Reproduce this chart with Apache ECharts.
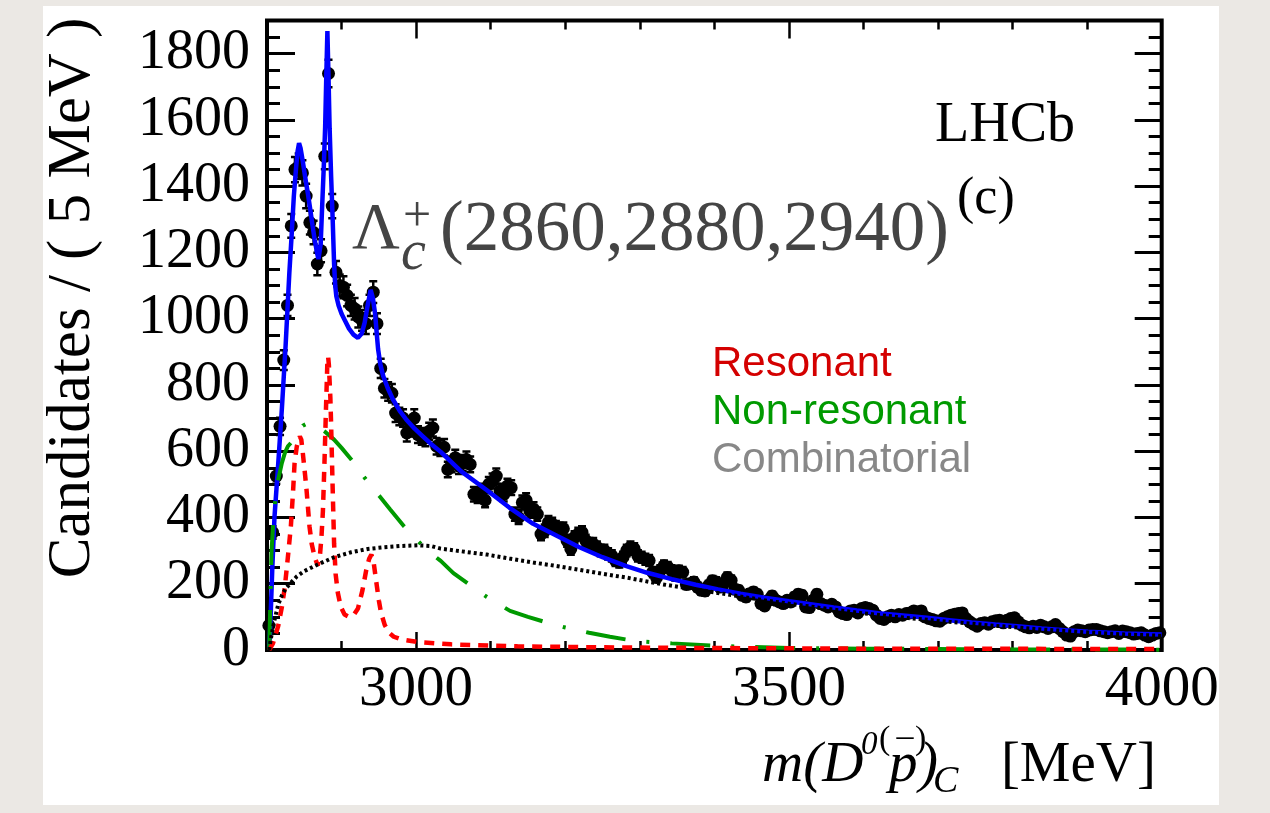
<!DOCTYPE html>
<html>
<head>
<meta charset="utf-8">
<script src="https://cdn.jsdelivr.net/npm/echarts@6/dist/echarts.min.js"></script>
<style>
  html, body { margin: 0; padding: 0; background: #ebe8e4; }
  #panel { position: absolute; left: 43px; top: 6px; width: 1176px; height: 799px; background: #fff; }
  #chart { position: absolute; left: 0; top: 0; width: 1270px; height: 813px; }
</style>
</head>
<body>
<div id="panel"></div>
<div id="chart"></div>
<script>
// 5 MeV bins from 2800 to 4000
var binStart = 2800, binWidth = 5;
var counts = [
  74, 355, 525, 675, 875, 1040, 1280, 1450, 1460, 1440,
  1370, 1290, 1260, 1165, 1205, 1490, 1740, 1340, 1140, 1100,
  1095, 1070, 1040, 1030, 1005, 995, 985, 1040, 1080, 985,
  850, 790, 780, 775, 715, 705, 700, 655, 670, 700,
  650, 645, 640, 660, 670, 615, 610, 612, 545, 560,
  580, 555, 565, 575, 560, 470, 465, 480, 452, 500,
  510, 525, 480, 470, 495, 490, 410, 400, 445, 452,
  420, 425, 410, 350, 360, 385, 380, 370, 365, 366,
  330, 305, 340, 350, 355, 330, 320, 320, 310, 300,
  300, 290, 284, 270, 265, 280, 300, 310, 305, 284,
  280, 274, 270, 235, 219, 240, 254, 250, 240, 225,
  239, 235, 198, 200, 205, 190, 180, 178, 195, 209,
  205, 190, 200, 219, 210, 183, 180, 165, 160, 170,
  175, 168, 140, 133, 150, 163, 150, 145, 140, 150,
  145, 160, 168, 165, 130, 128, 150, 168, 140, 135,
  130, 138, 130, 115, 110, 107, 118, 120, 112, 125,
  128, 125, 120, 105, 95, 92, 100, 105, 100, 107,
  105, 110, 112, 118, 115, 118, 100, 95, 92, 88,
  87, 95, 100, 105, 108, 110, 112, 95, 85, 78,
  72, 80, 82, 78, 85, 88, 90, 82, 90, 95,
  97, 85, 75, 70, 67, 72, 68, 75, 70, 65,
  70, 77, 65, 55, 45, 42, 55, 60, 58, 55,
  60, 62, 62, 58, 55, 52, 55, 58, 50, 57,
  55, 52, 48, 50, 52, 45, 40, 45, 50, 52
];

var totalFit = [
  [2803,0],[2805,110],[2807,240],[2810,400],[2815,560],[2820,730],[2825,920],[2830,1140],
  [2833,1250],[2836,1370],[2839,1455],[2841,1505],[2843,1530],[2845,1515],[2848,1475],
  [2851,1430],[2855,1375],[2858,1330],[2861,1282],[2864,1238],[2867,1200],[2869,1180],
  [2870.5,1182],[2872,1225],[2874,1340],[2876,1450],[2878,1580],[2879.5,1730],[2881,1868],
  [2882.5,1730],[2884,1575],[2886,1430],[2888,1305],[2890,1165],[2891.5,1100],[2893,1068],
  [2896,1040],[2900,1015],[2904,997],[2910,970],[2916,952],[2922,942],[2927,955],[2931,988],
  [2935,1040],[2939,1087],[2942,1062],[2945,1015],[2947,960],[2949,908],[2952,862],[2956,826],
  [2962,790],[2969,756],[2978,722],[2987,695],[2998,668],[3009,645],[3020,622],[3033,598],
  [3060,540],[3095,482],[3125,430],[3157,381],[3190,343],[3219,310],[3250,280],[3281,254],
  [3310,233],[3343,214],[3375,197],[3405,183],[3435,170],[3467,158],[3500,147],[3529,138],
  [3560,128],[3591,119],[3620,111],[3653,104],[3685,97],[3715,90],[3745,83],[3777,77],
  [3810,71],[3839,65],[3870,60],[3901,55],[3950,50],[4000,47]
];

var resonant = [
  [2803,0],[2808,20],[2815,72],[2820,130],[2824,192],[2828,280],[2832,373],[2835,480],
  [2837,565],[2840,615],[2844,645],[2846,635],[2848,595],[2851,530],[2853,484],[2857,373],
  [2860,320],[2864,280],[2868,255],[2871,285],[2873,340],[2875,420],[2877,560],[2879,720],
  [2881,870],[2882,885],[2883,860],[2885,760],[2886,680],[2888,494],[2890,320],[2892,230],
  [2895,173],[2899,130],[2904,107],[2910,100],[2916,105],[2922,125],[2928,180],[2933,240],
  [2937,275],[2940,288],[2943,265],[2946,215],[2950,150],[2953,112],[2958,75],[2964,52],
  [2970,40],[2980,32],[3002,24],[3047,17],[3136,11],[3250,8],[3400,6],[3600,4],[4000,3]
];

var nonResonant = [
  [2803,0],[2805,200],[2806,294],[2808,373],[2811,450],[2815,514],[2820,565],[2824,595],
  [2828,615],[2832,625],[2840,655],[2848,677],[2855,685],[2862,680],[2870,670],[2877,660],
  [2890,635],[2900,610],[2913,575],[2922,548],[2931,520],[2940,493],[2951,464],[2965,425],
  [2984,373],[3000,335],[3015,300],[3033,269],[3050,232],[3071,198],[3095,160],[3126,118],
  [3150,100],[3172,85],[3200,68],[3232,52],[3260,40],[3294,27],[3343,20],[3397,13],
  [3450,9],[3500,6],[3600,4],[3700,3],[3800,2],[4000,1]
];

var combinatorial = [
  [2803,0],[2805,32],[2810,90],[2815,137],[2820,165],[2825,185],[2832,203],[2840,222],
  [2850,238],[2868,258],[2890,280],[2913,295],[2935,305],[2957,310],[2980,314],[3002,316],
  [3020,314],[3033,306],[3060,298],[3095,288],[3125,276],[3157,264],[3190,253],[3219,242],
  [3250,230],[3281,219],[3331,198],[3400,174],[3467,150],[3529,131],[3591,113],[3653,98],
  [3715,85],[3777,73],[3839,62],[3901,53],[3950,47],[4000,43]
];

var xMajorTicks = [3000, 3500, 4000];
var yMajorTicks = [0, 200, 400, 600, 800, 1000, 1200, 1400, 1600, 1800];

var serif = 'Liberation Serif';
var points = counts.map(function (c, i) {
  return [binStart + binWidth * (i + 0.5), c, Math.sqrt(c)];
});

function plain(v) { return String(v); }

function xAxisCfg(pos, len, major) {
  var a = {
    type: 'value', position: pos, min: 2800, max: 4000, interval: 100,
    axisLine: { show: false, onZero: false },
    axisTick: { inside: true, length: len, lineStyle: { color: '#000', width: 2.5 } },
    axisLabel: { show: false },
    splitLine: { show: false }
  };
  if (major) a.axisTick.customValues = xMajorTicks;
  return a;
}
function yAxisCfg(pos, len, major) {
  var a = {
    type: 'value', position: pos, min: 0, max: 1900, interval: 50,
    axisLine: { show: false, onZero: false },
    axisTick: { inside: true, length: len, lineStyle: { color: '#000', width: 3 } },
    axisLabel: { show: false },
    splitLine: { show: false }
  };
  if (major) a.axisTick.customValues = yMajorTicks;
  return a;
}

var xAxes = [xAxisCfg('bottom', 9, false), xAxisCfg('bottom', 18, true),
             xAxisCfg('top', 9, false), xAxisCfg('top', 18, true)];
xAxes[1].axisLabel = { show: true, customValues: xMajorTicks, color: '#000',
  fontFamily: serif, fontSize: 57, margin: 12, formatter: plain };
var yAxes = [yAxisCfg('left', 13, false), yAxisCfg('left', 28, true),
             yAxisCfg('right', 13, false), yAxisCfg('right', 27, true)];
yAxes[1].axisLabel = { show: true, customValues: yMajorTicks, color: '#000',
  fontFamily: serif, fontSize: 56, margin: 17, formatter: plain };

function txt(x, y, text, font, fill, align, rot) {
  return {
    type: 'text', x: x, y: y, rotation: rot || 0, z: 100,
    style: { text: text, font: font, fill: fill, align: align || 'left', textAlign: align || 'left',
      verticalAlign: 'middle', textVerticalAlign: 'middle' }
  };
}

var chart = echarts.init(document.getElementById('chart'), null, { renderer: 'canvas' });
chart.setOption({
  animation: false,
  backgroundColor: 'transparent',
  grid: { left: 267, top: 20.5, right: 108.3, bottom: 163, show: true,
    borderColor: '#000', borderWidth: 4, backgroundColor: 'transparent' },
  xAxis: xAxes,
  yAxis: yAxes,
  graphic: [
    txt(73, 298, 'Candidates / ( 5 MeV )', '61px "' + serif + '"', '#000', 'center', Math.PI / 2),
    txt(762, 766, 'm(D', 'italic 57px "' + serif + '"', '#000'),
    txt(861, 745, '0', 'italic 33px "' + serif + '"', '#000'),
    txt(879, 740, '(', '34px "' + serif + '"', '#000'),
    txt(905, 737, '\u2013', '34px "' + serif + '"', '#000', 'center'),
    txt(915, 740, ')', '34px "' + serif + '"', '#000'),
    txt(889, 766, 'p', 'italic 57px "' + serif + '"', '#000'),
    txt(919, 766, ')', 'italic 57px "' + serif + '"', '#000'),
    txt(933, 782, 'C', 'italic 38px "' + serif + '"', '#000'),
    txt(1156, 766, '[MeV]', '57px "' + serif + '"', '#000', 'right'),
    txt(935, 126, 'LHCb', '56px "' + serif + '"', '#000'),
    txt(352, 231, '\u039B', '66px "' + serif + '"', '#444'),
    txt(403, 218, '+', '50px "' + serif + '"', '#444'),
    txt(401, 254, 'c', 'italic 56px "' + serif + '"', '#444'),
    txt(440, 231, '(2860,2880,2940)', '71px "' + serif + '"', '#444'),
    txt(957, 199, '(c)', '52px "' + serif + '"', '#000'),
    txt(712, 364, 'Resonant', '42px "Liberation Sans"', '#d40000'),
    txt(712, 412, 'Non-resonant', '42px "Liberation Sans"', '#009a00'),
    txt(712, 460, 'Combinatorial', '42px "Liberation Sans"', '#888888')
  ],
  series: [
    {
      type: 'custom', name: 'errors', data: points, clip: true,
      renderItem: function (params, api) {
        var x = api.value(0), y = api.value(1), e = api.value(2);
        var top = api.coord([x, y + e]), bot = api.coord([x, y - e]);
        var st = { stroke: '#000', lineWidth: 2.5 };
        return { type: 'group', children: [
          { type: 'line', shape: { x1: top[0], y1: top[1], x2: bot[0], y2: bot[1] }, style: st },
          { type: 'line', shape: { x1: top[0] - 4, y1: top[1], x2: top[0] + 4, y2: top[1] }, style: st },
          { type: 'line', shape: { x1: bot[0] - 4, y1: bot[1], x2: bot[0] + 4, y2: bot[1] }, style: st }
        ] };
      }
    },
    {
      type: 'scatter', name: 'Data', data: points, symbolSize: 13,
      itemStyle: { color: '#000', opacity: 1 }
    },
    {
      type: 'line', name: 'Total', data: totalFit, showSymbol: false,
      lineStyle: { color: '#0000ff', width: 4.5 }
    },
    {
      type: 'line', name: 'Non-resonant', data: nonResonant, showSymbol: false,
      lineStyle: { color: '#009a00', width: 4, type: [40, 21, 3, 21] }
    },
    {
      type: 'line', name: 'Resonant', data: resonant, showSymbol: false,
      lineStyle: { color: '#ff0000', width: 4.5, type: [10, 8] }
    },
    {
      type: 'line', name: 'Combinatorial', data: combinatorial, showSymbol: false,
      lineStyle: { color: '#000', width: 4, type: [3, 3] }
    }
  ]
});
</script>
</body>
</html>
